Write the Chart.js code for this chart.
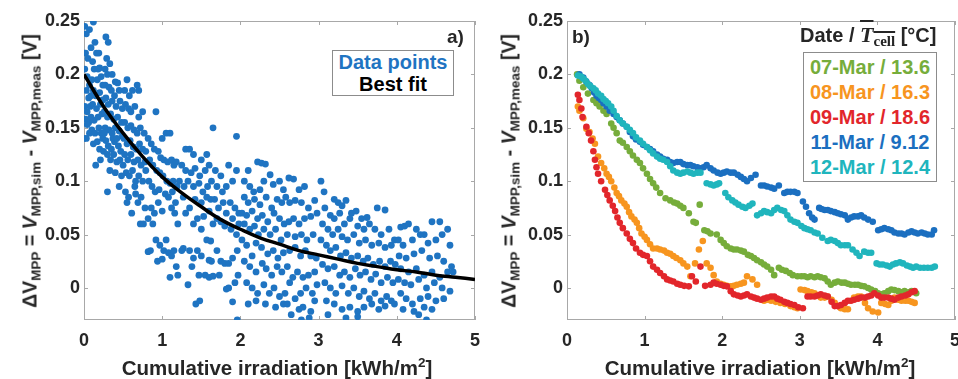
<!DOCTYPE html>
<html>
<head>
<meta charset="utf-8">
<script src="https://cdn.jsdelivr.net/npm/chart.js@4.4.1/dist/chart.umd.min.js"></script>
<style>
  html, body { margin: 0; padding: 0; background: #fff; overflow: hidden; }
  body { width: 958px; height: 379px; position: relative; font-family: "Liberation Sans", Arial, sans-serif; color: #262626; }
  canvas { position: absolute; top: 0; }
  #chart-a { left: 0; }
  #chart-b { left: 480px; }
  .ytitle { position: absolute; top: 171px; transform: translate(-50%, -50%) rotate(-90deg); white-space: nowrap; font-weight: bold; font-size: 19.5px; }
  .ytitle sub { font-size: 13.5px; vertical-align: -4px; line-height: 0; }
  .xtitle { position: absolute; top: 368px; transform: translate(-50%, -50%); white-space: nowrap; font-weight: bold; font-size: 20.5px; }
  .xtitle sup { font-size: 13.5px; vertical-align: 8px; line-height: 0; }
  .panel-tag { position: absolute; font-weight: bold; font-size: 19px; line-height: 1; }
  .legend { position: absolute; background: #fff; border: 1px solid #8c8c8c; font-weight: bold; font-size: 20px; line-height: 25px; text-align: center; white-space: nowrap; }
  .legend-title { position: absolute; font-weight: bold; font-size: 20px; white-space: nowrap; line-height: 1; }
  .tbar { text-decoration: overline; font-family: "Liberation Serif", serif; }
  .tbar i { font-size: 22px; }
  .tbar sub { font-size: 15px; vertical-align: -4px; line-height: 0; }
</style>
</head>
<body>
<canvas id="chart-a" width="490" height="379"></canvas>
<canvas id="chart-b" width="490" height="379"></canvas>

<div class="ytitle" style="left:30px">&Delta;V<sub>MPP</sub> = <i>V</i><sub>MPP,sim</sub> - <i>V</i><sub>MPP,meas</sub> [V]</div>
<div class="ytitle" style="left:509px">&Delta;V<sub>MPP</sub> = <i>V</i><sub>MPP,sim</sub> - <i>V</i><sub>MPP,meas</sub> [V]</div>
<div class="xtitle" style="left:277px">Cumulative irradiation [kWh/m<sup>2</sup>]</div>
<div class="xtitle" style="left:760px">Cumulative irradiation [kWh/m<sup>2</sup>]</div>

<div class="panel-tag" style="left:447px;top:27px">a)</div>
<div class="panel-tag" style="left:572px;top:27px">b)</div>

<div class="legend" id="legend-a" style="left:332px;top:50px;width:120px;height:44px;line-height:22px"></div>
<div class="legend-title" style="left:800px;top:24px">Date / <span class="tbar"><i>T</i><sub>cell</sub></span> [°C]</div>
<div class="legend" id="legend-b" style="left:803px;top:52px;width:134px;height:130px;padding-top:2px;box-sizing:border-box"></div>

<script>
// ---- axes ----
const xTicks = [0, 1, 2, 3, 4, 5];
const yTicks = [0, 0.05, 0.1, 0.15, 0.2, 0.25];
const yTickLabels = ['0', '0.05', '0.1', '0.15', '0.2', '0.25'];
const yMin = -0.03, yMax = 0.25;

// ---- panel a: all data points [cumulative irradiation, dV] ----
const pointsA = [
  [0.01,0.245],[0.03,0.238],[0.07,0.242],[0.12,0.249],[0.02,0.22],[0.05,0.215],[0.01,0.205],[0.04,0.198],[0.09,0.225],[0.14,0.23],
  [0.16,0.22],[0.11,0.212],[0.19,0.22],[0.2,0.206],[0.13,0.205],[0.07,0.19],[0.1,0.195],[0.17,0.195],[0.22,0.198],[0.24,0.19],
  [0.03,0.185],[0.06,0.178],[0.12,0.185],[0.15,0.18],[0.2,0.183],[0.01,0.17],[0.04,0.165],[0.08,0.17],[0.11,0.172],[0.16,0.168],
  [0.21,0.172],[0.24,0.176],[0.02,0.158],[0.06,0.155],[0.09,0.16],[0.13,0.157],[0.18,0.16],[0.23,0.163],[0.0,0.14],[0.03,0.14],
  [0.07,0.145],[0.1,0.148],[0.14,0.145],[0.19,0.15],[0.22,0.145],[0.12,0.135],[0.17,0.137],[0.2,0.13],[0.24,0.14],[0.15,0.115],
  [0.21,0.12],[0.25,0.128],[0.04,0.153],[0.09,0.18],[0.18,0.205],
  [0.28,0.235],[0.31,0.23],[0.29,0.215],[0.27,0.205],[0.33,0.21],[0.3,0.2],[0.36,0.2],[0.4,0.193],[0.43,0.192],[0.27,0.19],
  [0.32,0.188],[0.35,0.185],[0.39,0.18],[0.45,0.185],[0.28,0.178],[0.31,0.172],[0.36,0.175],[0.41,0.17],[0.46,0.175],[0.49,0.168],
  [0.26,0.165],[0.3,0.16],[0.34,0.163],[0.38,0.158],[0.43,0.16],[0.48,0.155],[0.27,0.15],[0.32,0.148],[0.36,0.145],[0.4,0.15],
  [0.45,0.147],[0.49,0.142],[0.28,0.138],[0.31,0.133],[0.35,0.13],[0.39,0.137],[0.44,0.133],[0.47,0.128],[0.3,0.125],[0.34,0.12],
  [0.38,0.125],[0.42,0.118],[0.46,0.12],[0.5,0.115],[0.33,0.11],[0.4,0.108],[0.3,0.09],[0.45,0.095],[0.48,0.105],[0.37,0.14],
  [0.26,0.145],[0.42,0.14],
  [0.55,0.195],[0.52,0.185],[0.58,0.18],[0.62,0.185],[0.68,0.19],[0.7,0.185],[0.53,0.172],[0.57,0.168],[0.6,0.165],[0.65,0.17],
  [0.7,0.16],[0.75,0.165],[0.52,0.155],[0.56,0.15],[0.6,0.152],[0.64,0.148],[0.68,0.145],[0.72,0.15],[0.77,0.145],[0.51,0.14],
  [0.55,0.135],[0.59,0.138],[0.63,0.132],[0.67,0.13],[0.71,0.135],[0.75,0.13],[0.79,0.128],[0.52,0.125],[0.56,0.12],[0.6,0.125],
  [0.64,0.118],[0.69,0.12],[0.73,0.115],[0.78,0.118],[0.54,0.108],[0.58,0.105],[0.62,0.11],[0.66,0.1],[0.7,0.105],[0.75,0.1],
  [0.79,0.11],[0.53,0.09],[0.57,0.085],[0.61,0.07],[0.65,0.095],[0.69,0.08],[0.73,0.085],[0.72,0.06],[0.76,0.06],[0.78,0.075],
  [0.55,0.08],[0.66,0.088],
  [0.92,0.165],[1.0,0.14],[1.05,0.145],[1.1,0.145],[0.82,0.14],[0.86,0.135],[0.9,0.13],[0.95,0.128],[0.98,0.122],[1.02,0.12],
  [1.07,0.118],[1.12,0.12],[1.15,0.115],[1.18,0.118],[0.84,0.12],[0.88,0.115],[0.93,0.11],[0.97,0.108],[1.01,0.105],[1.06,0.1],
  [1.1,0.098],[1.14,0.1],[1.19,0.095],[0.83,0.1],[0.87,0.095],[0.91,0.09],[0.96,0.092],[1.04,0.088],[1.08,0.085],[1.13,0.09],
  [1.17,0.08],[0.86,0.075],[0.9,0.07],[0.95,0.08],[1.0,0.072],[1.12,0.075],[1.16,0.07],[0.82,0.065],[0.88,0.06],[0.85,0.035],
  [0.82,0.034],[0.92,0.045],[0.97,0.04],[1.02,0.035],[1.0,0.027],[1.05,0.045],[1.08,0.033],[1.12,0.03],[1.18,0.02],[1.15,0.035],
  [0.94,0.025],[1.1,0.01],[1.2,0.012],[1.25,0.035],[1.27,0.037],[1.2,0.06],
  [1.3,0.13],[1.35,0.13],[1.4,0.125],[1.5,0.12],[1.57,0.125],[1.65,0.15],[1.95,0.142],[1.25,0.115],[1.3,0.11],[1.37,0.108],
  [1.42,0.112],[1.48,0.105],[1.55,0.11],[1.6,0.115],[1.68,0.11],[1.75,0.105],[1.85,0.115],[1.95,0.11],[1.22,0.1],[1.28,0.095],
  [1.33,0.1],[1.4,0.095],[1.47,0.098],[1.52,0.09],[1.58,0.095],[1.63,0.1],[1.7,0.095],[1.77,0.09],[1.82,0.095],[1.9,0.1],
  [1.27,0.085],[1.35,0.075],[1.42,0.083],[1.5,0.08],[1.57,0.085],[1.62,0.083],[1.67,0.083],[1.72,0.075],[1.78,0.08],[1.87,0.08],
  [1.93,0.075],[1.98,0.07],[1.3,0.07],[1.45,0.065],[1.53,0.067],[1.6,0.072],[1.65,0.06],[1.75,0.062],[1.82,0.07],[1.9,0.065],
  [1.98,0.06],[1.4,0.06],[1.5,0.055],[1.57,0.045],[1.62,0.044],[1.7,0.065],[1.8,0.058],[1.88,0.055],[1.95,0.05],[1.35,0.035],
  [1.4,0.028],[1.45,0.035],[1.5,0.03],[1.6,0.026],[1.63,0.025],[1.7,0.035],[1.75,0.025],[1.8,0.023],[1.85,0.023],[1.9,0.028],
  [1.96,0.035],[1.38,0.02],[1.47,0.012],[1.55,0.012],[1.6,0.01],[1.65,0.011],[1.73,0.012],[1.82,-0.001],[1.85,0.0],[1.93,0.005],
  [1.97,0.012],[1.33,0.003],[1.43,-0.015],[1.48,-0.012],[1.9,-0.013],[1.96,-0.03],
  [2.05,0.1],[2.1,0.11],[2.22,0.118],[2.27,0.117],[2.32,0.116],[2.38,0.106],[2.12,0.095],[2.17,0.09],[2.25,0.092],[2.3,0.1],
  [2.42,0.097],[2.5,0.1],[2.55,0.092],[2.62,0.103],[2.68,0.102],[2.75,0.092],[2.82,0.095],[2.05,0.085],[2.1,0.08],[2.18,0.083],
  [2.25,0.078],[2.33,0.085],[2.4,0.075],[2.47,0.083],[2.53,0.08],[2.58,0.085],[2.63,0.08],[2.7,0.082],[2.78,0.08],[2.87,0.075],
  [2.95,0.082],[2.02,0.07],[2.08,0.068],[2.15,0.072],[2.22,0.065],[2.28,0.068],[2.35,0.062],[2.43,0.07],[2.5,0.065],[2.56,0.06],
  [2.62,0.062],[2.68,0.065],[2.75,0.06],[2.82,0.065],[2.9,0.067],[2.98,0.07],[2.05,0.06],[2.12,0.055],[2.18,0.058],[2.23,0.05],
  [2.3,0.055],[2.38,0.05],[2.45,0.055],[2.52,0.045],[2.6,0.05],[2.7,0.048],[2.78,0.05],[2.85,0.045],[2.93,0.05],[2.02,0.045],
  [2.08,0.04],[2.15,0.03],[2.2,0.042],[2.27,0.038],[2.35,0.032],[2.42,0.035],[2.48,0.028],[2.55,0.033],[2.63,0.035],[2.7,0.038],
  [2.77,0.03],[2.83,0.035],[2.9,0.03],[2.97,0.028],[2.05,0.025],[2.12,0.02],[2.2,0.015],[2.28,0.023],[2.33,0.018],[2.4,0.012],
  [2.47,0.02],[2.53,0.015],[2.6,0.02],[2.67,0.01],[2.73,0.015],[2.8,0.01],[2.87,0.012],[2.95,0.015],[2.08,0.005],[2.15,0.0],
  [2.22,-0.005],[2.3,0.003],[2.37,-0.005],[2.43,0.0],[2.5,-0.008],[2.57,-0.005],[2.63,0.005],[2.7,-0.01],[2.77,-0.005],[2.84,0.0],
  [2.92,-0.005],[2.98,0.003],[2.1,-0.015],[2.2,-0.012],[2.32,-0.015],[2.45,-0.018],[2.55,-0.015],[2.65,-0.025],[2.75,-0.02],[2.8,-0.018],
  [2.9,-0.022],[2.88,-0.028],[2.78,-0.03],[2.6,-0.015],[2.95,-0.012],
  [3.03,0.1],[3.07,0.09],[3.2,0.083],[3.25,0.08],[3.3,0.077],[3.35,0.082],[3.42,0.07],[3.48,0.072],[3.55,0.065],[3.62,0.066],
  [3.75,0.075],[3.85,0.073],[3.08,0.075],[3.15,0.068],[3.2,0.065],[3.27,0.07],[3.33,0.06],[3.4,0.065],[3.5,0.058],[3.58,0.055],
  [3.65,0.06],[3.72,0.055],[3.8,0.05],[3.9,0.055],[3.97,0.045],[3.05,0.06],[3.12,0.055],[3.18,0.05],[3.25,0.055],[3.3,0.048],
  [3.37,0.045],[3.45,0.05],[3.52,0.042],[3.6,0.045],[3.68,0.04],[3.77,0.042],[3.85,0.038],[3.93,0.04],[3.03,0.045],[3.1,0.04],
  [3.15,0.035],[3.22,0.038],[3.28,0.03],[3.35,0.033],[3.42,0.028],[3.5,0.03],[3.57,0.025],[3.63,0.028],[3.7,0.022],[3.78,0.025],
  [3.85,0.02],[3.92,0.025],[3.98,0.022],[3.05,0.022],[3.12,0.018],[3.2,0.02],[3.27,0.012],[3.33,0.015],[3.4,0.01],[3.47,0.018],
  [3.53,0.012],[3.6,0.015],[3.67,0.008],[3.73,0.013],[3.8,0.005],[3.88,0.01],[3.95,0.005],[3.08,0.005],[3.15,0.0],[3.22,-0.005],
  [3.3,0.002],[3.38,-0.005],[3.45,0.0],[3.52,-0.008],[3.58,-0.003],[3.65,-0.01],[3.72,-0.005],[3.8,-0.012],[3.87,-0.008],[3.93,-0.012],
  [3.1,-0.012],[3.2,-0.015],[3.3,-0.02],[3.4,-0.018],[3.5,-0.022],[3.58,-0.018],[3.68,-0.015],[3.77,-0.02],[3.85,-0.017],[3.35,-0.028],
  [3.5,-0.027],[3.12,-0.025],[3.97,-0.015],
  [4.05,0.057],[4.1,0.058],[4.15,0.06],[4.25,0.055],[4.35,0.05],[4.45,0.062],[4.55,0.062],[4.65,0.055],[4.02,0.045],[4.08,0.04],
  [4.2,0.045],[4.3,0.05],[4.4,0.042],[4.5,0.045],[4.58,0.05],[4.68,0.04],[4.03,0.03],[4.12,0.028],[4.22,0.032],[4.32,0.035],
  [4.42,0.028],[4.52,0.03],[4.6,0.025],[4.7,0.02],[4.05,0.018],[4.15,0.015],[4.25,0.018],[4.35,0.012],[4.45,0.015],[4.55,0.01],
  [4.65,0.015],[4.72,0.015],[4.02,0.008],[4.1,0.005],[4.18,0.003],[4.28,0.008],[4.38,0.0],[4.48,0.005],[4.58,0.0],[4.68,-0.003],
  [4.05,-0.005],[4.12,-0.01],[4.2,-0.015],[4.3,-0.01],[4.4,-0.008],[4.5,-0.012],[4.6,-0.01],[4.08,-0.02],[4.22,-0.022],[4.35,-0.018],
  [4.45,-0.02],[4.38,-0.03],[4.28,-0.025]
];

// best fit curve
const fitX = [0, 0.25, 0.5, 0.75, 1, 1.25, 1.5, 1.75, 2, 2.25, 2.5, 2.75, 3, 3.25, 3.5, 3.75, 4, 4.25, 4.5, 4.75, 5];
const fitY = [0.2, 0.17, 0.145, 0.123, 0.104, 0.089, 0.076, 0.064, 0.055, 0.047, 0.041, 0.035, 0.031, 0.027, 0.023, 0.02, 0.017, 0.015, 0.012, 0.01, 0.008];

// ---- panel b: daily series ----
const dayLabels = ['07-Mar / 13.6', '08-Mar / 16.3', '09-Mar / 18.6', '11-Mar / 9.12', '12-Mar / 12.4'];
const dayColors = ['#76ad3b', '#f7951f', '#e2262b', '#1b6fc0', '#20b5bd'];

const mar07 = [
  [0.13,0.2],[0.16,0.194],[0.21,0.188],[0.27,0.182],[0.34,0.176],[0.38,0.173],[0.42,0.17],[0.47,0.166],[0.51,0.163],[0.57,0.154],
  [0.6,0.15],[0.64,0.145],[0.68,0.138],[0.72,0.136],[0.77,0.132],[0.81,0.128],[0.85,0.124],[0.9,0.12],[0.94,0.117],[0.98,0.112],
  [1.03,0.107],[1.07,0.102],[1.11,0.098],[1.15,0.094],[1.2,0.089],[1.27,0.084],[1.33,0.082],[1.38,0.08],[1.42,0.079],[1.46,0.077],
  [1.5,0.075],[1.57,0.07],[1.63,0.062],[1.66,0.061],[1.71,0.078],[1.77,0.054],[1.81,0.053],[1.85,0.051],[1.93,0.05],[1.98,0.045],
  [2.02,0.042],[2.06,0.039],[2.11,0.037],[2.15,0.036],[2.19,0.036],[2.24,0.035],[2.28,0.034],[2.33,0.031],[2.37,0.03],[2.41,0.028],
  [2.45,0.026],[2.5,0.024],[2.54,0.022],[2.58,0.02],[2.63,0.017],[2.67,0.012],[2.73,0.019],[2.77,0.017],[2.82,0.016],[2.87,0.014],
  [2.91,0.012],[2.97,0.011],[3.02,0.011],[3.06,0.011],[3.1,0.01],[3.14,0.011],[3.19,0.01],[3.23,0.011],[3.27,0.01],[3.32,0.009],
  [3.36,0.006],[3.4,0.003],[3.45,0.005],[3.49,0.006],[3.54,0.005],[3.58,0.005],[3.62,0.004],[3.66,0.003],[3.71,0.003],[3.75,0.003],
  [3.79,0.002],[3.83,0.0015],[3.88,0.0],[3.92,-0.0015],[3.97,-0.003],[4.01,-0.005],[4.05,-0.006],[4.09,-0.005],[4.14,-0.003],[4.18,-0.0015],
  [4.22,-0.002],[4.27,-0.003],[4.31,-0.004],[4.35,-0.003],[4.4,-0.004],[4.44,-0.003],[4.5,-0.005]
];
const mar08 = [
  [0.14,0.17],[0.16,0.166],[0.21,0.159],[0.25,0.149],[0.29,0.146],[0.33,0.14],[0.36,0.135],[0.4,0.123],[0.44,0.117],[0.48,0.112],
  [0.51,0.107],[0.54,0.104],[0.57,0.1],[0.61,0.094],[0.64,0.089],[0.67,0.086],[0.7,0.082],[0.74,0.079],[0.77,0.076],[0.8,0.071],
  [0.83,0.067],[0.87,0.064],[0.9,0.061],[0.93,0.056],[0.96,0.051],[1.0,0.048],[1.03,0.045],[1.07,0.041],[1.11,0.037],[1.16,0.037],
  [1.2,0.036],[1.25,0.035],[1.29,0.033],[1.33,0.032],[1.37,0.03],[1.41,0.028],[1.46,0.026],[1.5,0.023],[1.55,0.02],[1.59,0.011],
  [1.65,0.023],[1.7,0.036],[1.75,0.044],[1.8,0.023],[1.85,0.019],[1.89,0.012],[1.93,0.006],[1.98,0.004],[2.02,0.003],[2.06,0.002],
  [2.11,0.0015],[2.15,0.002],[2.19,0.003],[2.24,0.004],[2.28,0.005],[2.32,0.011],[2.39,0.008],[2.45,0.003],[2.54,-0.012],[2.58,-0.011],
  [2.63,-0.012],[2.69,-0.013],[2.75,-0.014],[2.81,-0.015],[2.88,-0.017],[2.93,-0.018],[2.97,-0.019],[3.01,-0.0015],[3.06,-0.002],[3.1,-0.003],
  [3.15,-0.004],[3.19,-0.005],[3.23,-0.007],[3.27,-0.009],[3.32,-0.009],[3.36,-0.008],[3.41,-0.011],[3.45,-0.014],[3.49,-0.017],[3.53,-0.019],
  [3.58,-0.02],[3.62,-0.02],[3.7,-0.009],[3.75,-0.008],[3.79,-0.008],[3.84,-0.014],[3.88,-0.019],[3.94,-0.022],[4.01,-0.023],[4.05,-0.014],
  [4.1,-0.015],[4.14,-0.016],[4.18,-0.012],[4.22,-0.009],[4.27,-0.011],[4.31,-0.012],[4.36,-0.012],[4.4,-0.012],[4.44,-0.013],[4.48,-0.014]
];
const mar09 = [
  [0.14,0.181],[0.16,0.176],[0.185,0.168],[0.2,0.16],[0.25,0.151],[0.28,0.145],[0.31,0.138],[0.34,0.128],[0.36,0.12],[0.38,0.113],
  [0.4,0.107],[0.44,0.1],[0.49,0.092],[0.52,0.087],[0.55,0.082],[0.59,0.077],[0.62,0.072],[0.65,0.066],[0.68,0.061],[0.72,0.056],
  [0.77,0.051],[0.81,0.046],[0.85,0.042],[0.89,0.037],[0.94,0.033],[0.98,0.031],[1.03,0.03],[1.07,0.025],[1.11,0.02],[1.16,0.017],
  [1.2,0.014],[1.25,0.011],[1.29,0.008],[1.33,0.007],[1.37,0.006],[1.42,0.004],[1.46,0.003],[1.51,0.002],[1.57,0.0015],[1.61,0.011],
  [1.66,0.006],[1.72,0.02],[1.78,0.002],[1.85,0.003],[1.89,0.005],[1.93,0.004],[1.98,0.003],[2.02,0.002],[2.06,0.0015],[2.11,-0.003],
  [2.15,-0.006],[2.2,-0.007],[2.24,-0.008],[2.28,-0.007],[2.32,-0.006],[2.37,-0.008],[2.41,-0.009],[2.45,-0.01],[2.5,-0.011],[2.54,-0.01],
  [2.58,-0.009],[2.63,-0.008],[2.67,-0.008],[2.71,-0.01],[2.75,-0.011],[2.8,-0.013],[2.84,-0.014],[2.88,-0.015],[2.93,-0.016],[2.98,-0.018],
  [3.04,-0.019],[3.1,-0.008],[3.14,-0.008],[3.19,-0.008],[3.23,-0.007],[3.27,-0.006],[3.32,-0.007],[3.36,-0.008],[3.41,-0.013],[3.45,-0.017],
  [3.49,-0.017],[3.53,-0.016],[3.58,-0.014],[3.62,-0.012],[3.66,-0.012],[3.7,-0.011],[3.75,-0.01],[3.79,-0.009],[3.84,-0.009],[3.88,-0.008],
  [3.92,-0.007],[3.96,-0.005],[4.01,-0.007],[4.05,-0.009],[4.09,-0.009],[4.14,-0.009],[4.18,-0.01],[4.22,-0.011],[4.27,-0.009],[4.31,-0.008],
  [4.36,-0.007],[4.4,-0.006],[4.44,-0.004],[4.48,-0.003]
];
const mar11 = [
  [0.16,0.2],[0.21,0.197],[0.25,0.193],[0.29,0.19],[0.32,0.187],[0.35,0.183],[0.38,0.18],[0.41,0.178],[0.44,0.176],[0.47,0.173],
  [0.51,0.17],[0.55,0.166],[0.6,0.163],[0.64,0.16],[0.68,0.157],[0.72,0.154],[0.77,0.151],[0.81,0.146],[0.85,0.142],[0.89,0.139],
  [0.94,0.137],[0.98,0.134],[1.03,0.132],[1.07,0.13],[1.11,0.128],[1.16,0.125],[1.2,0.123],[1.24,0.121],[1.29,0.12],[1.33,0.118],
  [1.37,0.117],[1.42,0.118],[1.46,0.118],[1.5,0.116],[1.55,0.115],[1.59,0.115],[1.63,0.114],[1.68,0.113],[1.72,0.112],[1.76,0.113],
  [1.8,0.115],[1.85,0.112],[1.89,0.11],[1.94,0.108],[1.98,0.107],[2.02,0.108],[2.06,0.109],[2.11,0.108],[2.15,0.108],[2.2,0.106],
  [2.24,0.104],[2.28,0.102],[2.32,0.1],[2.37,0.103],[2.43,0.106],[2.5,0.096],[2.54,0.096],[2.58,0.095],[2.63,0.094],[2.67,0.093],
  [2.73,0.096],[2.8,0.089],[2.84,0.09],[2.88,0.09],[2.93,0.09],[2.97,0.089],[3.04,0.081],[3.08,0.076],[3.12,0.07],[3.16,0.066],
  [3.19,0.064],[3.25,0.075],[3.28,0.074],[3.32,0.073],[3.36,0.073],[3.4,0.072],[3.45,0.071],[3.49,0.07],[3.53,0.069],[3.58,0.068],
  [3.62,0.064],[3.66,0.066],[3.7,0.067],[3.75,0.067],[3.79,0.068],[3.83,0.066],[3.88,0.064],[3.94,0.062],[4.01,0.054],[4.05,0.055],
  [4.09,0.056],[4.14,0.055],[4.18,0.054],[4.22,0.052],[4.27,0.051],[4.31,0.051],[4.35,0.05],[4.4,0.052],[4.44,0.053],[4.48,0.052],
  [4.52,0.051],[4.57,0.052],[4.61,0.051],[4.65,0.05],[4.7,0.05],[4.73,0.054]
];
const mar12 = [
  [0.14,0.199],[0.18,0.198],[0.21,0.196],[0.24,0.194],[0.27,0.191],[0.3,0.189],[0.34,0.187],[0.37,0.185],[0.4,0.182],[0.44,0.18],
  [0.47,0.177],[0.5,0.175],[0.53,0.173],[0.57,0.17],[0.6,0.166],[0.64,0.161],[0.68,0.157],[0.72,0.154],[0.77,0.151],[0.81,0.148],
  [0.85,0.145],[0.89,0.141],[0.94,0.138],[0.98,0.135],[1.03,0.132],[1.07,0.129],[1.11,0.126],[1.16,0.123],[1.2,0.121],[1.24,0.12],
  [1.29,0.118],[1.33,0.114],[1.37,0.11],[1.42,0.108],[1.46,0.107],[1.5,0.108],[1.55,0.109],[1.59,0.108],[1.63,0.107],[1.68,0.108],
  [1.72,0.108],[1.8,0.098],[1.85,0.097],[1.89,0.096],[1.93,0.097],[1.96,0.098],[2.04,0.089],[2.08,0.085],[2.13,0.082],[2.17,0.08],
  [2.21,0.078],[2.26,0.076],[2.3,0.075],[2.35,0.077],[2.39,0.079],[2.45,0.068],[2.5,0.07],[2.54,0.072],[2.58,0.071],[2.63,0.07],
  [2.67,0.073],[2.71,0.075],[2.76,0.073],[2.8,0.072],[2.84,0.068],[2.88,0.064],[2.93,0.062],[2.97,0.061],[3.02,0.058],[3.06,0.056],
  [3.1,0.055],[3.14,0.054],[3.19,0.052],[3.23,0.051],[3.29,0.047],[3.36,0.044],[3.4,0.045],[3.45,0.044],[3.49,0.042],[3.53,0.04],
  [3.58,0.04],[3.62,0.04],[3.68,0.036],[3.73,0.033],[3.77,0.03],[3.83,0.034],[3.88,0.033],[3.92,0.033],[3.99,0.023],[4.03,0.022],
  [4.07,0.022],[4.12,0.021],[4.16,0.02],[4.2,0.022],[4.24,0.023],[4.29,0.024],[4.33,0.023],[4.38,0.021],[4.42,0.02],[4.46,0.019],
  [4.5,0.02],[4.55,0.019],[4.6,0.019],[4.65,0.019],[4.7,0.019],[4.74,0.02]
];
const daySeries = [mar07, mar08, mar09, mar11, mar12];

const pointBlue = '#1f74c2';
const textColor = '#262626';

// legends as real text
document.getElementById('legend-a').innerHTML =
  `<div style="color:${pointBlue}">Data points</div><div style="color:#000">Best fit</div>`;
document.getElementById('legend-b').innerHTML =
  dayLabels.map((l, i) => `<div style="color:${dayColors[i]}">${l}</div>`).join('');

// box + inward tick marks, MATLAB style
const framePlugin = {
  id: 'frame',
  beforeDatasetsDraw(chart) {
    const { ctx, chartArea: a, scales: { x, y } } = chart;
    ctx.save();
    ctx.strokeStyle = '#a8a8a8';
    ctx.lineWidth = 1;
    ctx.strokeRect(Math.round(a.left) + 0.5, Math.round(a.top) + 0.5, Math.round(a.width) - 1, Math.round(a.height) - 1);
    ctx.beginPath();
    x.ticks.forEach(t => {
      const px = Math.round(x.getPixelForValue(t.value)) + 0.5;
      ctx.moveTo(px, a.bottom); ctx.lineTo(px, a.bottom - 4);
      ctx.moveTo(px, a.top); ctx.lineTo(px, a.top + 4);
    });
    y.ticks.forEach(t => {
      const py = Math.round(y.getPixelForValue(t.value)) + 0.5;
      ctx.moveTo(a.left, py); ctx.lineTo(a.left + 4, py);
      ctx.moveTo(a.right, py); ctx.lineTo(a.right - 4, py);
    });
    ctx.stroke();
    ctx.restore();
  }
};

function axisOptions(yWidth) {
  const tickFont = { family: '"Liberation Sans", Arial, sans-serif', size: 18, weight: 'bold' };
  return {
    x: {
      type: 'linear', min: 0, max: 5,
      afterBuildTicks: s => { s.ticks = xTicks.map(v => ({ value: v })); },
      afterFit: s => { s.height = 59; },
      grid: { display: false, drawTicks: false },
      border: { display: false },
      ticks: { color: textColor, font: tickFont, padding: 10, maxRotation: 0, callback: v => String(v) },
    },
    y: {
      type: 'linear', min: yMin, max: yMax,
      afterBuildTicks: s => { s.ticks = yTicks.map(v => ({ value: v })); },
      afterFit: s => { s.width = yWidth; },
      grid: { display: false, drawTicks: false },
      border: { display: false },
      ticks: { color: textColor, font: tickFont, padding: 4, callback: (v, i) => yTickLabels[i] },
    },
  };
}

new Chart(document.getElementById('chart-a'), {
  type: 'scatter',
  data: {
    datasets: [
      {
        type: 'line',
        data: fitX.map((x, i) => ({ x, y: fitY[i] })),
        borderColor: '#000', borderWidth: 3.5, pointRadius: 0,
        tension: 0.4, fill: false, order: 0,
      },
      {
        data: pointsA.map(p => ({ x: p[0], y: p[1] })),
        backgroundColor: pointBlue, borderWidth: 0, pointRadius: 3.4, order: 1, clip: 0,
      },
    ],
  },
  options: {
    responsive: false, animation: false,
    layout: { padding: { left: 0, right: 10, top: 21, bottom: 0 } },
    plugins: { legend: { display: false }, tooltip: { enabled: false } },
    scales: axisOptions(84),
  },
  plugins: [framePlugin],
});

new Chart(document.getElementById('chart-b'), {
  type: 'scatter',
  data: {
    datasets: daySeries.map((s, i) => ({
      label: dayLabels[i],
      data: s.map(p => ({ x: p[0], y: p[1] })),
      backgroundColor: dayColors[i], borderWidth: 0, pointRadius: 3.3,
      order: daySeries.length - i, clip: 0,
    })),
  },
  options: {
    responsive: false, animation: false,
    layout: { padding: { left: 0, right: 8, top: 21, bottom: 0 } },
    plugins: { legend: { display: false }, tooltip: { enabled: false } },
    scales: axisOptions(87),
  },
  plugins: [framePlugin],
});
</script>
</body>
</html>
